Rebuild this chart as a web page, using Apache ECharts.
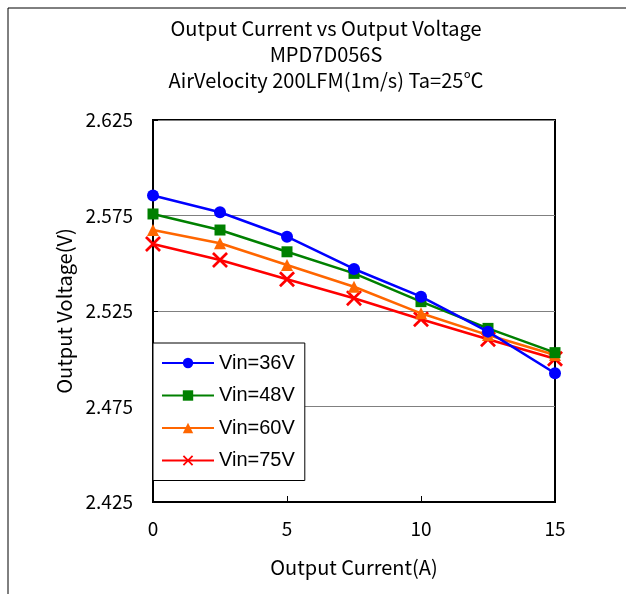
<!DOCTYPE html>
<html>
<head>
<meta charset="utf-8">
<script src="https://cdn.jsdelivr.net/npm/echarts@6/dist/echarts.min.js"></script>
<style>html,body{margin:0;padding:0;background:#fff;}#c{width:626px;height:594px;}</style>
</head>
<body>
<div id="c"></div>
<script>
const titleLines = ['Output Current vs Output Voltage', 'MPD7D056S', 'AirVelocity 200LFM(1m/s) Ta=25\u2103'];
const xName = 'Output Current(A)';
const yName = 'Output Voltage(V)';
const current = [0, 2.5, 5, 7.5, 10, 12.5, 15];
const seriesNames = ['Vin=36V', 'Vin=48V', 'Vin=60V', 'Vin=75V'];
const vin36 = [2.5855, 2.5767, 2.5639, 2.5470, 2.5325, 2.5142, 2.4924];
const vin48 = [2.5758, 2.5674, 2.5560, 2.5447, 2.5299, 2.5159, 2.5032];
const vin60 = [2.5674, 2.5605, 2.5491, 2.5377, 2.5238, 2.5124, 2.5020];
const vin75 = [2.5601, 2.5517, 2.5416, 2.5317, 2.5207, 2.5102, 2.5000];
const yMin = 2.425, yMax = 2.625, yStep = 0.05;
const xMin = 0, xMax = 15, xStep = 5;

const colors = ['#0000ff', '#008000', '#ff6600', '#ff0000'];
const symbols = ['circle', 'rect', 'triangle', 'path://M0,1.2L1.2,0L5,3.8L8.8,0L10,1.2L6.2,5L10,8.8L8.8,10L5,6.2L1.2,10L0,8.8L3.8,5Z'];
const symbolSizes = [12, 11, 12, 16];
const allValues = [vin36, vin48, vin60, vin75];

const FONT = '"Noto Sans CJK JP", sans-serif';
const chart = echarts.init(document.getElementById('c'), null, {renderer: 'canvas'});
chart.setOption({
  backgroundColor: '#fff',
  animation: false,
  title: {
    text: titleLines.join('\n'),
    left: 321, top: 10, textAlign: 'center',
    textStyle: {fontFamily: FONT, fontSize: 20, fontWeight: 'normal', color: '#000', lineHeight: 26}
  },
  graphic: [
    {type: 'line', shape: {x1: 8, y1: 8, x2: 626, y2: 8}, style: {stroke: '#000', lineWidth: 1}},
    {type: 'line', shape: {x1: 8, y1: 8, x2: 8, y2: 594}, style: {stroke: '#000', lineWidth: 1}}
  ],
  legend: {
    orient: 'vertical', left: 153, top: 343,
    backgroundColor: '#fff', borderColor: '#000', borderWidth: 1,
    padding: [10, 10, 10, 8], itemGap: 12.5, itemWidth: 52, itemHeight: 13,
    textStyle: {fontFamily: 'Liberation Sans, Arial, sans-serif', fontSize: 20, color: '#000'},
    data: seriesNames
  },
  grid: {left: 153, top: 120, width: 402, height: 382, show: true, borderColor: '#000', borderWidth: 2, backgroundColor: 'transparent'},
  xAxis: {
    type: 'value', min: xMin, max: xMax, interval: xStep,
    name: xName, nameLocation: 'middle', nameGap: 55,
    nameTextStyle: {fontFamily: FONT, fontSize: 20, color: '#000'},
    axisLine: {lineStyle: {color: '#000', width: 2}},
    axisTick: {inside: true, length: 6, lineStyle: {color: '#000'}},
    axisLabel: {margin: 17, fontFamily: FONT, fontSize: 19, color: '#000'},
    splitLine: {show: false}
  },
  yAxis: {
    type: 'value', min: 0, max: +(yMax - yMin).toFixed(3), interval: yStep,
    name: yName, nameLocation: 'middle', nameGap: 76,
    nameTextStyle: {fontFamily: FONT, fontSize: 20, color: '#000'},
    axisLine: {lineStyle: {color: '#000', width: 2}},
    axisTick: {inside: true, length: 5, lineStyle: {color: '#000'}},
    axisLabel: {margin: 20, fontFamily: FONT, fontSize: 19, color: '#000',
      formatter: v => (v + yMin).toFixed(3)},
    splitLine: {show: true, lineStyle: {color: '#808080', width: 1}}
  },
  series: seriesNames.map((n, i) => ({
    name: n, type: 'line',
    data: current.map((x, j) => [x, +(allValues[i][j] - yMin).toFixed(5)]),
    color: colors[i],
    symbol: symbols[i], symbolSize: symbolSizes[i],
    lineStyle: {width: 2.5, color: colors[i]},
    itemStyle: {color: colors[i]},
    z: 10 - i
  }))
});
</script>
</body>
</html>
